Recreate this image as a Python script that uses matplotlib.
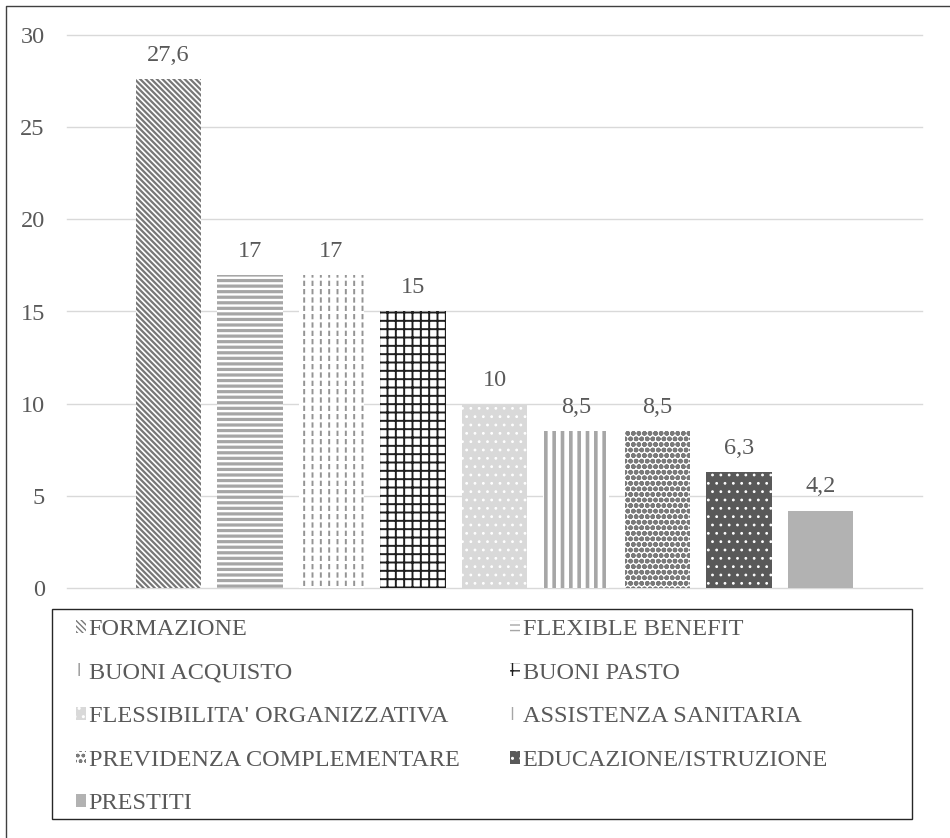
import matplotlib
matplotlib.use('Agg')
import matplotlib.pyplot as plt
from matplotlib.lines import Line2D
from matplotlib.patches import Rectangle

# ---------------- data ----------------
categories = ["FORMAZIONE", "FLEXIBLE BENEFIT", "BUONI ACQUISTO", "BUONI PASTO",
              "FLESSIBILITA' ORGANIZZATIVA", "ASSISTENZA SANITARIA",
              "PREVIDENZA COMPLEMENTARE", "EDUCAZIONE/ISTRUZIONE", "PRESTITI"]
values = [27.6, 17, 17, 15, 10, 8.5, 8.5, 6.3, 4.2]
value_labels = ["27,6", "17", "17", "15", "10", "8,5", "8,5", "6,3", "4,2"]
yticks = [0, 5, 10, 15, 20, 25, 30]

# ---------------- styles ----------------
styles = [
    dict(face='white', hatch='\\' * 6, hcolor='#777777', hlw=1.6),
    dict(face='white', hatch='---', hcolor='#a6a6a6', hlw=2.3),
    dict(face='white', hatch='||', hcolor='#949494', hlw=1.4),
    dict(face='white', hatch='++', hcolor='#1e1e1e', hlw=1.4),
    dict(face='#d9d9d9', hatch='..', hcolor='white', hlw=0.8),
    dict(face='white', hatch='||', hcolor='#a6a6a6', hlw=2.6),
    dict(face='white', hatch='ooo', hcolor='#7a7a7a', hlw=1.7),
    dict(face='#595959', hatch='..', hcolor='white', hlw=0.8),
    dict(face='#b2b2b2', hatch=None, hcolor='#b2b2b2', hlw=1.0),
]
TEXT = '#595959'
FS = 17.5

plt.rcParams['font.family'] = ['Liberation Serif', 'DejaVu Serif']

W, H = 950, 838
fig = plt.figure(figsize=(W / 100, H / 100), dpi=100)
ax = fig.add_axes([67 / W, 1 - 588 / H, (922 - 67) / W, (588 - 35) / H])

x = list(range(len(values)))
bw = 0.8
handles = []
for i, (xi, v, st) in enumerate(zip(x, values, styles)):
    with plt.rc_context({'hatch.linewidth': st['hlw']}):
        b = ax.bar([xi], [v], width=bw, color=st['face'], edgecolor=st['hcolor'],
                   linewidth=0, hatch=st['hatch'], label=categories[i], zorder=2)
    p = b.patches[0]
    if hasattr(p, 'set_hatch_linewidth'):
        p.set_hatch_linewidth(st['hlw'])
    handles.append(p)

# dashed effect for BUONI ACQUISTO: break the vertical lines with white lines
with plt.rc_context({'hatch.linewidth': 2.2}):
    ob = ax.bar([x[2]], [values[2]], width=bw, facecolor='none', edgecolor='white',
                linewidth=0, hatch='--', zorder=3)
if hasattr(ob.patches[0], 'set_hatch_linewidth'):
    ob.patches[0].set_hatch_linewidth(2.2)

for xi, v, lab in zip(x, values, value_labels):
    ax.annotate(lab, (xi, v), xytext=(0, 17), textcoords='offset points',
                ha='center', va='center', fontsize=FS, color=TEXT)

ax.set_xlim(-1.245, 9.245)
ax.set_ylim(0, 30)
ax.set_yticks(yticks)
ax.set_yticklabels([str(t) for t in yticks])
ax.set_xticks([])
ax.tick_params(axis='y', length=0, pad=16, labelsize=FS, labelcolor=TEXT)
for s in ax.spines.values():
    s.set_visible(False)
ax.set_axisbelow(True)
ax.yaxis.grid(True, color='#d9d9d9', linewidth=1.0, zorder=0)
for gl in ax.get_ygridlines():
    gl.set_clip_on(False)

# legend (two columns laid out row-wise)
left_idx = [0, 2, 4, 6, 8]
right_idx = [1, 3, 5, 7]
common = dict(loc='upper left', frameon=False, borderpad=0, borderaxespad=0,
              handlelength=0.42, handleheight=0.45, handletextpad=0.1,
              labelspacing=0.93, fontsize=FS, labelcolor=TEXT)
fig.legend([handles[i] for i in left_idx], [categories[i] for i in left_idx],
           bbox_to_anchor=(76 / W, 1 - 619 / H), **common)
fig.legend([handles[i] for i in right_idx], [categories[i] for i in right_idx],
           bbox_to_anchor=(510 / W, 1 - 619 / H), **common)

fig.add_artist(Rectangle((52 / W, 1 - 819 / H), (912 - 52) / W, (819 - 609) / H,
                         transform=fig.transFigure, fill=False,
                         edgecolor='#262626', linewidth=1.0))
# outer chart border (left and top visible)
fig.add_artist(Line2D([6 / W, 6 / W, 1], [0, 1 - 6 / H, 1 - 6 / H],
                      transform=fig.transFigure, color='#404040', linewidth=1.0))

fig.savefig('out.png', dpi=100, facecolor='white')
